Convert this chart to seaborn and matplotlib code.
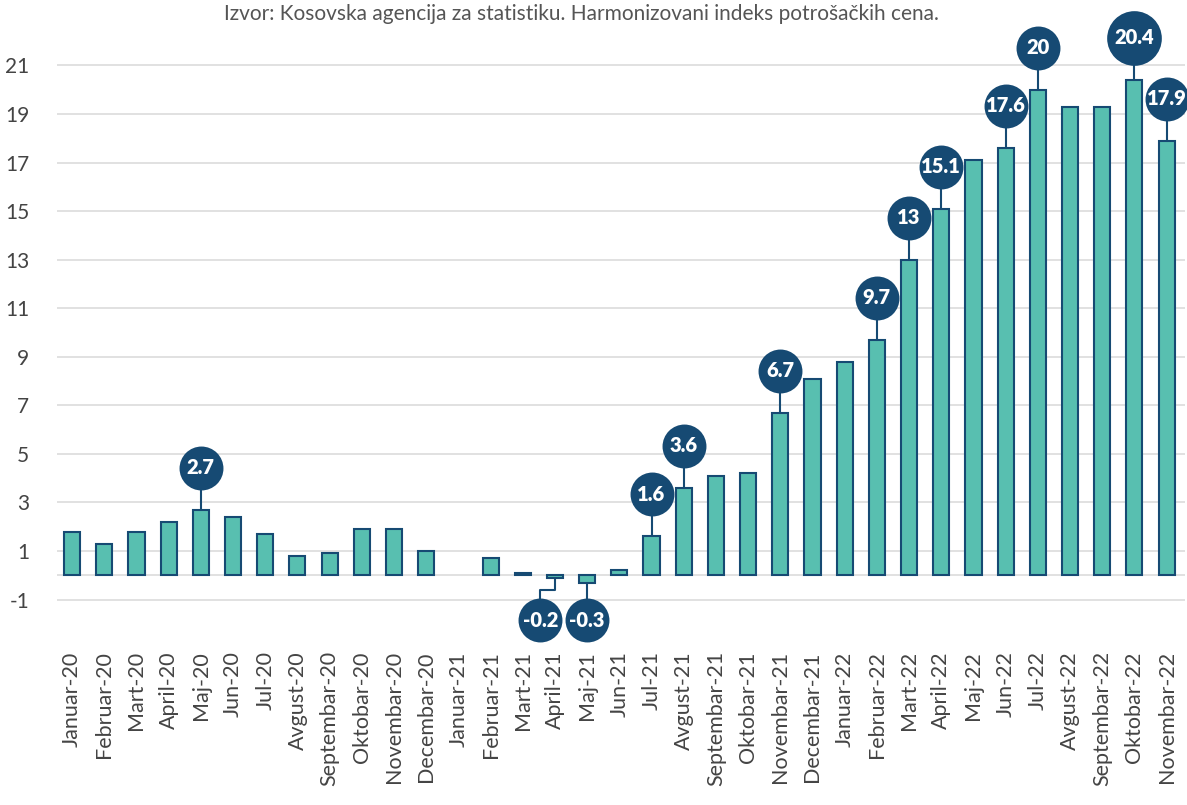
import matplotlib
matplotlib.use('Agg')
import matplotlib.pyplot as plt
import seaborn as sns
import pandas as pd
import numpy as np

# mjeseci i inflacija (%)
meseci = ['Januar-20', 'Februar-20', 'Mart-20', 'April-20', 'Maj-20', 'Jun-20',
          'Jul-20', 'Avgust-20', 'Septembar-20', 'Oktobar-20', 'Novembar-20',
          'Decembar-20', 'Januar-21', 'Februar-21', 'Mart-21', 'April-21',
          'Maj-21', 'Jun-21', 'Jul-21', 'Avgust-21', 'Septembar-21',
          'Oktobar-21', 'Novembar-21', 'Decembar-21', 'Januar-22', 'Februar-22',
          'Mart-22', 'April-22', 'Maj-22', 'Jun-22', 'Jul-22', 'Avgust-22',
          'Septembar-22', 'Oktobar-22', 'Novembar-22']
vrednosti = [1.8, 1.3, 1.8, 2.2, 2.7, 2.4, 1.7, 0.8, 0.9, 1.9, 1.9, 1.0,
             np.nan, 0.7, 0.1, -0.1, -0.3, 0.2, 1.6, 3.6, 4.1, 4.2, 6.7, 8.1,
             8.8, 9.7, 13.0, 15.1, 17.1, 17.6, 20.0, 19.3, 19.3, 20.4, 17.9]
# oznake u krugovima
oznake = {'Maj-20': '2.7', 'April-21': '-0.2', 'Maj-21': '-0.3', 'Jul-21': '1.6',
          'Avgust-21': '3.6', 'Novembar-21': '6.7', 'Februar-22': '9.7',
          'Mart-22': '13', 'April-22': '15.1', 'Jun-22': '17.6', 'Jul-22': '20',
          'Oktobar-22': '20.4', 'Novembar-22': '17.9'}
yticks = [-1, 1, 3, 5, 7, 9, 11, 13, 15, 17, 19, 21]

df = pd.DataFrame({'mesec': meseci, 'inflacija': vrednosti})

sns.set_style('white')
plt.rcParams['font.family'] = ['Lato', 'DejaVu Sans']

fig = plt.figure(figsize=(11.87, 8.05), dpi=100)
ax = fig.add_axes([0.048, 0.222, 0.95, 0.742])

tamna = '#164a73'
sns.barplot(data=df, x='mesec', y='inflacija', color='#58bfb0', saturation=1,
            width=0.5, edgecolor=tamna, linewidth=1.5, ax=ax, zorder=3)

for y in yticks + [0]:
    ax.axhline(y, color='#dcdcdc', lw=1.2, zorder=1)

ax.set_ylim(-2.1, 22.5)
ax.set_xlim(-0.47, 34.56)
ax.set_yticks(yticks)
ax.set_yticklabels([str(t) for t in yticks], fontsize=15, color='#444444')
ax.tick_params(axis='y', length=0, pad=20)
ax.tick_params(axis='x', length=0, pad=18)
plt.setp(ax.get_xticklabels(), rotation=90, fontsize=15.5, color='#444444')
ax.set_xlabel('')
ax.set_ylabel('')
sns.despine(ax=ax, left=True, bottom=True)

pomak = 1.73
for i, m in enumerate(meseci):
    if m not in oznake:
        continue
    v = vrednosti[i]
    tekst = oznake[m]
    if v >= 0:
        cx, cy = i, v + pomak
        ax.plot([i, i], [v, cy], color=tamna, lw=1.5, zorder=4, clip_on=False)
    elif m == 'April-21':
        cx, cy = i - 0.45, -1.85
        ax.plot([i, i, cx, cx], [v, -0.6, -0.6, cy], color=tamna, lw=1.5,
                zorder=4, clip_on=False)
    else:
        cx, cy = i, -1.85
        ax.plot([i, i], [v, cy], color=tamna, lw=1.5, zorder=4, clip_on=False)
    vel = 1550 if tekst == '20.4' else 1000
    ax.scatter([cx], [cy], s=vel, color=tamna, zorder=5, clip_on=False,
               linewidths=0)
    ax.text(cx, cy, tekst, ha='center', va='center', fontsize=14.5,
            fontweight='heavy', color='white', zorder=6)

fig.text(0.49, 0.982, 'Izvor: Kosovska agencija za statistiku. Harmonizovani indeks potrošačkih cena.',
         ha='center', va='center', fontsize=15, color='#555555')

fig.savefig('out.png', dpi=100)
